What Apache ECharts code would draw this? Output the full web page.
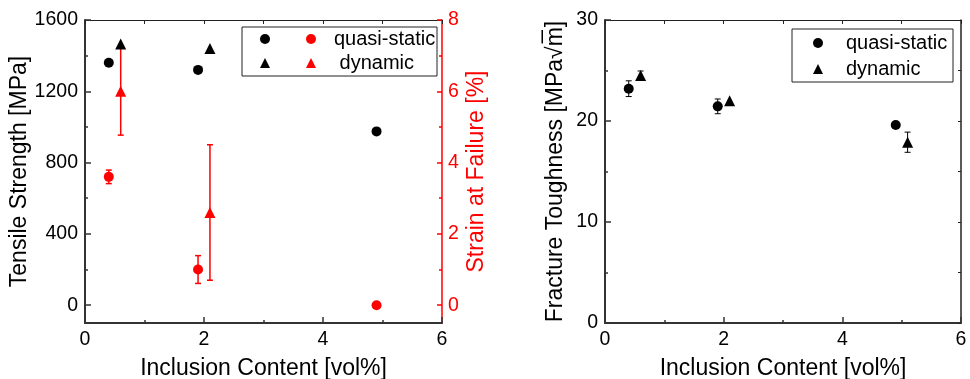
<!DOCTYPE html>
<html>
<head>
<meta charset="utf-8">
<script src="https://cdn.jsdelivr.net/npm/echarts@6/dist/echarts.min.js"></script>
<style>html,body{margin:0;padding:0;background:#fff}#c{width:970px;height:379px}</style>
</head>
<body>
<div id="c"></div>
<script>
// ---- data ----
const xQS = [0.4, 1.9, 4.9];
const xDyn = [0.6, 2.1];
const xDynK = [0.6, 2.1, 5.1];
const tensileQS = [1360, 1320, 975];
const tensileDyn = [1465, 1440];
const strainQS = [3.6, 1.0, 0];
const strainQSErr = [0.19, 0.39, 0];
const strainDyn = [6.0, 2.6];
const strainDynErr = [1.23, 1.9];
const toughQS = [23.2, 21.45, 19.6];
const toughQSErr = [0.78, 0.73, 0];
const toughDyn = [24.5, 22.0, 17.9];
const toughDynErr = [0.45, 0, 1.0];
const tensileTicks = [0, 400, 800, 1200, 1600];
const tensileMinor = [200, 600, 1000, 1400];
const strainTicks = [0, 2, 4, 6, 8];
const strainMinor = [1, 3, 5, 7];

const FONT = "'Liberation Sans', Arial, sans-serif";
const zip = (xs, ys) => xs.map((x, i) => [x, ys[i]]);
const errData = (xs, ys, es) => xs.map((x, i) => [x, ys[i] - es[i], ys[i] + es[i]]).filter(d => d[2] > d[1]);
const plain = (v) => String(v);

function errRender(color, lw) {
  return function (params, api) {
    const x = api.value(0), lo = api.value(1), hi = api.value(2);
    const p1 = api.coord([x, hi]), p2 = api.coord([x, lo]);
    const w = 3;
    const st = { stroke: color, lineWidth: lw };
    return {
      type: 'group', children: [
        { type: 'line', shape: { x1: p1[0], y1: p1[1], x2: p2[0], y2: p2[1] }, style: st },
        { type: 'line', shape: { x1: p1[0] - w, y1: p1[1], x2: p1[0] + w, y2: p1[1] }, style: st },
        { type: 'line', shape: { x1: p2[0] - w, y1: p2[1], x2: p2[0] + w, y2: p2[1] }, style: st }
      ]
    };
  };
}

const labelStyle = (color) => ({ color: color, fontFamily: FONT, fontSize: 19.5, formatter: plain });
const nameStyle = (color) => ({ color: color, fontFamily: FONT, fontSize: 23 });

function xAxes(gridIndex) {
  return [
    {
      gridIndex, type: 'value', position: 'bottom', min: 0, max: 6, interval: 2,
      name: 'Inclusion Content [vol%]', nameLocation: 'middle', nameGap: 34,
      nameTextStyle: nameStyle('#000'),
      axisLine: { onZero: false, lineStyle: { color: '#333', width: 2 } },
      axisTick: { inside: true, length: 6, lineStyle: { color: '#333', width: 1.5 } },
      minorTick: { show: true, splitNumber: 2, length: 3, lineStyle: { color: '#333', width: 1.5 } },
      axisLabel: Object.assign({ margin: 7 }, labelStyle('#000')),
      splitLine: { show: false }
    },
    {
      gridIndex, type: 'value', position: 'top', min: 0, max: 6, interval: 2,
      axisLine: { onZero: false, lineStyle: { color: '#222', width: 1 } },
      axisTick: { inside: true, length: 4, lineStyle: { color: '#222', width: 1 } },
      minorTick: { show: true, splitNumber: 2, length: 4, lineStyle: { color: '#222', width: 1 } },
      axisLabel: { show: false },
      splitLine: { show: false }
    }
  ];
}

const scatterStyle = (c) => ({ color: c, opacity: 1 });

const option = {
  animation: false,
  backgroundColor: '#fff',
  grid: [
    { left: 85, top: 20, width: 357, height: 303, containLabel: false, outerBoundsMode: 'none' },
    { left: 605, top: 20, width: 356, height: 303, containLabel: false, outerBoundsMode: 'none' }
  ],
  xAxis: xAxes(0).concat(xAxes(1)),
  yAxis: [
    { // 0 tensile
      gridIndex: 0, type: 'value', position: 'left', min: -100, max: 1600,
      name: 'Tensile Strength [MPa]', nameLocation: 'middle', nameGap: 52, nameRotate: 90,
      nameTextStyle: nameStyle('#000'),
      axisLine: { show: true, onZero: false, lineStyle: { color: '#333', width: 2 } },
      axisTick: { show: true, inside: true, length: 6, customValues: tensileTicks, lineStyle: { color: '#333', width: 1.5 } },
      axisLabel: Object.assign({ margin: 7, customValues: tensileTicks }, labelStyle('#000')),
      splitLine: { show: false }
    },
    { // 1 tensile minor
      gridIndex: 0, type: 'value', position: 'left', min: -100, max: 1600,
      axisLine: { show: false, onZero: false },
      axisTick: { show: true, inside: true, length: 3, customValues: tensileMinor, lineStyle: { color: '#333', width: 1.5 } },
      axisLabel: { show: false }, splitLine: { show: false }
    },
    { // 2 strain
      gridIndex: 0, type: 'value', position: 'right', min: -0.5, max: 8,
      name: 'Strain at Failure [%]', nameLocation: 'middle', nameGap: 23, nameRotate: 90,
      nameTextStyle: nameStyle('#ff0000'),
      axisLine: { show: true, onZero: false, lineStyle: { color: '#ff0000', width: 1.5 } },
      axisTick: { show: true, inside: true, length: 5, customValues: strainTicks, lineStyle: { color: '#ff0000', width: 1.5 } },
      axisLabel: Object.assign({ margin: 6, customValues: strainTicks }, labelStyle('#ff0000')),
      splitLine: { show: false }
    },
    { // 3 strain minor
      gridIndex: 0, type: 'value', position: 'right', min: -0.5, max: 8,
      axisLine: { show: false, onZero: false },
      axisTick: { show: true, inside: true, length: 3, customValues: strainMinor, lineStyle: { color: '#ff0000', width: 1.5 } },
      axisLabel: { show: false }, splitLine: { show: false }
    },
    { // 4 toughness
      gridIndex: 1, type: 'value', position: 'left', min: 0, max: 30, interval: 10,
      name: 'Fracture Toughness [MPa\u221Am\u0305]', nameLocation: 'middle', nameGap: 38, nameRotate: 90,
      nameTextStyle: nameStyle('#000'),
      axisLine: { show: true, onZero: false, lineStyle: { color: '#333', width: 2 } },
      axisTick: { show: true, inside: true, length: 6, lineStyle: { color: '#333', width: 1.5 } },
      minorTick: { show: true, splitNumber: 2, length: 3, lineStyle: { color: '#333', width: 1.5 } },
      axisLabel: Object.assign({ margin: 7 }, labelStyle('#000')),
      splitLine: { show: false }
    },
    { // 5 toughness right frame
      gridIndex: 1, type: 'value', position: 'right', min: 0, max: 30, interval: 10,
      axisLine: { show: true, onZero: false, lineStyle: { color: '#222', width: 1.5 } },
      axisTick: { show: true, inside: true, length: 3, lineStyle: { color: '#222', width: 1 } },
      minorTick: { show: true, splitNumber: 2, length: 3, lineStyle: { color: '#222', width: 1 } },
      axisLabel: { show: false }, splitLine: { show: false }
    }
  ],
  legend: [
    {
      orient: 'vertical', left: 260, top: 29, padding: 0, itemWidth: 10, itemHeight: 10, itemGap: 4,
      data: ['TS quasi-static', 'TS dynamic'], formatter: () => ' ',
      textStyle: { fontFamily: FONT, fontSize: 20, color: '#000' }, selectedMode: false
    },
    {
      orient: 'vertical', left: 306, top: 29, padding: 0, itemWidth: 10, itemHeight: 10, itemGap: 4,
      data: ['SF quasi-static', 'SF dynamic'],
      formatter: (n) => n === 'SF dynamic' ? ' dynamic' : 'quasi-static',
      textStyle: { fontFamily: FONT, fontSize: 20, color: '#000', padding: [0, 0, 0, 13] }, selectedMode: false
    },
    {
      orient: 'vertical', left: 813, top: 33, padding: 0, itemWidth: 10, itemHeight: 10, itemGap: 6,
      data: ['K quasi-static', 'K dynamic'],
      formatter: (n) => n.slice(2),
      textStyle: { fontFamily: FONT, fontSize: 20, color: '#000', padding: [0, 0, 0, 18] }, selectedMode: false
    }
  ],
  graphic: [
    { type: 'rect', shape: { x: 242, y: 27, width: 195, height: 49 }, style: { fill: 'none', stroke: '#222', lineWidth: 1 }, z: 10 },
    { type: 'rect', shape: { x: 792, y: 29, width: 161, height: 53 }, style: { fill: 'none', stroke: '#222', lineWidth: 1 }, z: 10 }
  ],
  series: [
    {
      name: 'SF err', type: 'custom', xAxisIndex: 0, yAxisIndex: 2, z: 1,
      data: errData(xQS, strainQS, strainQSErr).concat(errData(xDyn, strainDyn, strainDynErr)),
      renderItem: errRender('#ff0000', 1.5), encode: { x: 0, y: [1, 2] }
    },
    { name: 'TS quasi-static', type: 'scatter', xAxisIndex: 0, yAxisIndex: 0, symbol: 'circle', symbolSize: 10, itemStyle: scatterStyle('#000'), data: zip(xQS, tensileQS), z: 3 },
    { name: 'TS dynamic', type: 'scatter', xAxisIndex: 0, yAxisIndex: 0, symbol: 'triangle', symbolSize: 11, itemStyle: scatterStyle('#000'), data: zip(xDyn, tensileDyn), z: 3 },
    { name: 'SF quasi-static', type: 'scatter', xAxisIndex: 0, yAxisIndex: 2, symbol: 'circle', symbolSize: 10, itemStyle: scatterStyle('#ff0000'), data: zip(xQS, strainQS), z: 3 },
    { name: 'SF dynamic', type: 'scatter', xAxisIndex: 0, yAxisIndex: 2, symbol: 'triangle', symbolSize: 11, itemStyle: scatterStyle('#ff0000'), data: zip(xDyn, strainDyn), z: 3 },
    {
      name: 'K err', type: 'custom', xAxisIndex: 2, yAxisIndex: 4, z: 1,
      data: errData(xQS, toughQS, toughQSErr).concat(errData(xDynK, toughDyn, toughDynErr)),
      renderItem: errRender('#000', 1), encode: { x: 0, y: [1, 2] }
    },
    { name: 'K quasi-static', type: 'scatter', xAxisIndex: 2, yAxisIndex: 4, symbol: 'circle', symbolSize: 10, itemStyle: scatterStyle('#000'), data: zip(xQS, toughQS), z: 3 },
    { name: 'K dynamic', type: 'scatter', xAxisIndex: 2, yAxisIndex: 4, symbol: 'triangle', symbolSize: 11, itemStyle: scatterStyle('#000'), data: zip(xDynK, toughDyn), z: 3 }
  ]
};

const chart = echarts.init(document.getElementById('c'), null, { renderer: 'canvas' });
chart.setOption(option);
</script>
</body>
</html>
